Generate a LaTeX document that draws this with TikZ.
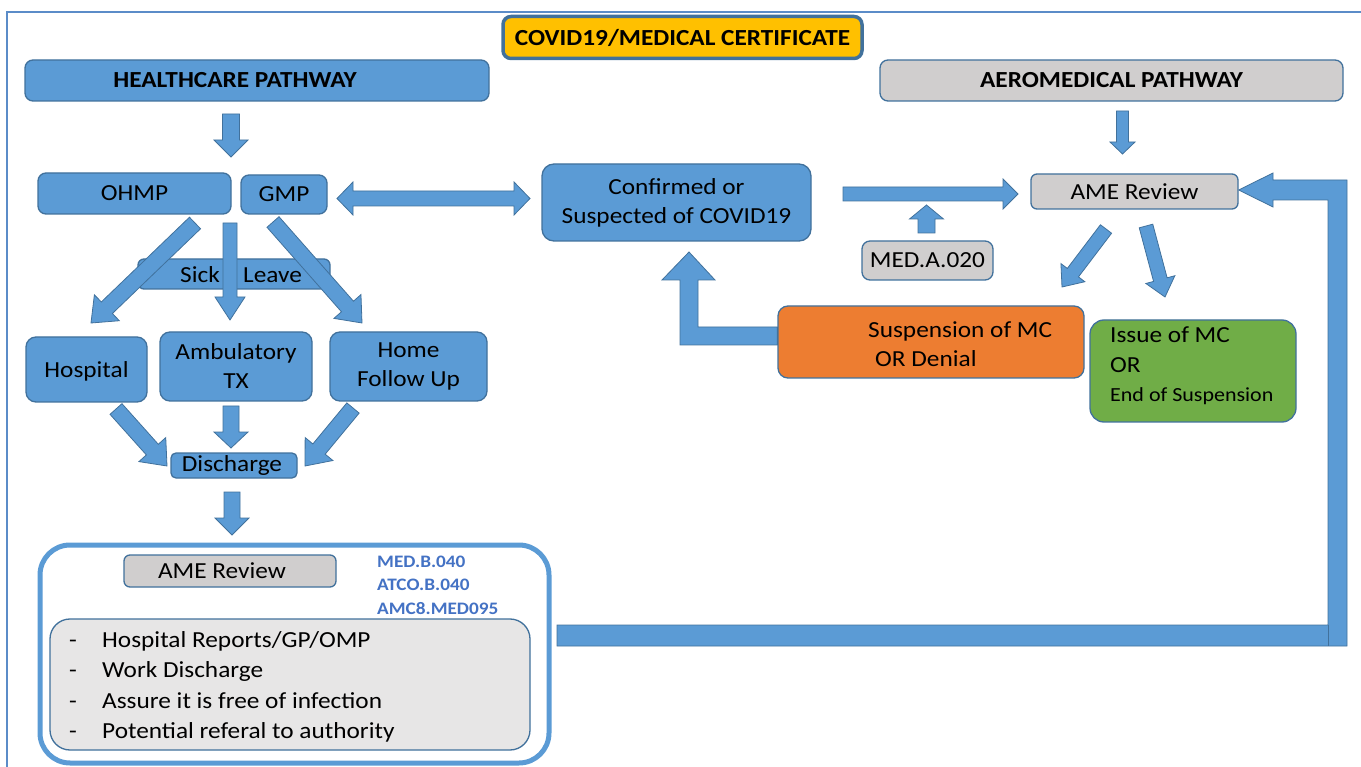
\documentclass[tikz,border=0pt]{standalone}
\usepackage{fontspec}
\setmainfont{Carlito}[FakeStretch=1.10]
\usetikzlibrary{calc}
\definecolor{blu}{HTML}{5B9BD5}
\definecolor{bdr}{HTML}{41719C}
\definecolor{gry}{HTML}{D0CECE}
\definecolor{lgry}{HTML}{E7E6E6}
\definecolor{org}{HTML}{ED7D31}
\definecolor{grn}{HTML}{70AD47}
\definecolor{gold}{HTML}{FFC000}
\definecolor{codeblue}{HTML}{4472C4}
\definecolor{framec}{HTML}{5B8CC8}
\newcommand\regf{\fontsize{23}{29}\selectfont}
\newcommand\headf{\fontsize{23}{27}\selectfont\bfseries}
\newcommand\codef{\fontsize{17.5}{20}\selectfont\bfseries}
\newcommand\smlf{\fontsize{20}{24}\selectfont}
% #1 name, #2 start, #3 tip, #4 half shaft, #5 half head, #6 head length
\newcommand\blockarrow[6]{%
  \coordinate (#1-h) at ($(#3)!#6!(#2)$);
  \draw[barrow] ($(#2)!#4!90:(#3)$) -- ($(#1-h)!#4!-90:(#2)$) -- ($(#1-h)!#5!-90:(#2)$) -- (#3)
     -- ($(#1-h)!#5!90:(#2)$) -- ($(#1-h)!#4!90:(#2)$) -- ($(#2)!#4!-90:(#3)$) -- cycle;}
% #1 name, #2 tip A, #3 tip B, #4 half shaft, #5 half head, #6 head length
\newcommand\dblarrow[6]{%
  \coordinate (#1-a) at ($(#2)!#6!(#3)$);
  \coordinate (#1-b) at ($(#3)!#6!(#2)$);
  \draw[barrow] (#2) -- ($(#1-a)!#5!90:(#3)$) -- ($(#1-a)!#4!90:(#3)$) -- ($(#1-b)!#4!-90:(#2)$)
     -- ($(#1-b)!#5!-90:(#2)$) -- (#3) -- ($(#1-b)!#5!90:(#2)$) -- ($(#1-b)!#4!90:(#2)$)
     -- ($(#1-a)!#4!-90:(#3)$) -- ($(#1-a)!#5!-90:(#3)$) -- cycle;}
\tikzset{
  pbox/.style={draw=bdr, line width=1.3pt, rounded corners=8pt, fill=blu, inner sep=0pt, align=center, font=\regf},
  gbox/.style={pbox, fill=gry},
  barrow/.style={fill=blu, draw=bdr, line width=0.8pt, line join=miter},
  txt/.style={inner sep=0pt, font=\regf, anchor=base west},
}
\begin{document}
\begin{tikzpicture}[x=1pt,y=-1pt]
\useasboundingbox (0,0) rectangle (1361,767);
\draw[framec, line width=1.5pt] (7,767) -- (7,12) -- (1361,12);

% headers
\node[pbox, fill=gold, line width=3.5pt, minimum width=359pt, minimum height=42pt, font=\headf] (title) at (682.5,37.5) {COVID19/MEDICAL CERTIFICATE};
\node[pbox, minimum width=464pt, minimum height=41pt, font=\headf] (hc) at (257,80.5) {HEALTHCARE PATHWAY\hspace*{44pt}};
\node[gbox, minimum width=463pt, minimum height=41pt, font=\headf] (am) at (1111.5,80.5) {AEROMEDICAL PATHWAY};

% left column
\node[pbox, minimum width=193pt, minimum height=41pt] (ohmp) at (134.5,193.5) {OHMP};
\node[pbox, minimum width=86pt, minimum height=39pt] (gmp) at (284,194.5) {GMP};
\node[pbox, minimum width=192pt, minimum height=30pt, rounded corners=6pt] (sick) at (234,274) {};
\node[txt] (sickt) at (180,283) {Sick};
\node[txt] (leavet) at (243,283) {Leave};
\node[pbox, minimum width=121pt, minimum height=65pt, rounded corners=10pt, text depth=0pt] (hosp) at (86.5,369.5) {Hospital};
\node[pbox, minimum width=152pt, minimum height=69pt, rounded corners=10pt] (amb) at (236,366.5) {Ambulatory\\TX};
\node[pbox, minimum width=157pt, minimum height=69pt, rounded corners=10pt] (home) at (408.5,366.5) {Home\\Follow Up};
\node[pbox, minimum width=126pt, minimum height=25pt, rounded corners=5pt] (dis) at (234,465.5) {Discharge\hspace*{4pt}};

% bottom block
\draw[blu, line width=5pt, fill=white, rounded corners=30pt] (40,545) rectangle (549,763);
\node[gbox, minimum width=212pt, minimum height=32pt, rounded corners=6pt] (ame2) at (230,571) {AME Review\hspace*{16pt}};
\node[txt, font=\codef, text=codeblue] (c1) at (377,567) {MED.B.040};
\node[txt, font=\codef, text=codeblue] (c2) at (377,590) {ATCO.B.040};
\node[txt, font=\codef, text=codeblue] (c3) at (377,614) {AMC8.MED095};
\node[pbox, fill=lgry, minimum width=480pt, minimum height=131pt, rounded corners=20pt] (list) at (290,684.5) {};
\node[txt] (d1) at (69,647) {-};
\node[txt] (d2) at (69,677) {-};
\node[txt] (d3) at (69,708) {-};
\node[txt] (d4) at (69,738) {-};
\node[txt] (l1) at (102,647) {Hospital Reports/GP/OMP};
\node[txt] (l2) at (102,677) {Work Discharge};
\node[txt] (l3) at (102,708) {Assure it is free of infection};
\node[txt] (l4) at (102,738) {Potential referal to authority};

% middle / right
\node[pbox, minimum width=269pt, minimum height=77pt, rounded corners=12pt] (conf) at (676.5,202.5) {Confirmed or\\Suspected of COVID19};
\node[gbox, minimum width=131pt, minimum height=39pt, rounded corners=8pt] (meda) at (927.5,260.5) {MED.A.020};
\node[gbox, minimum width=207pt, minimum height=35pt, rounded corners=6pt] (ame1) at (1134.5,191.5) {AME Review};
\node[pbox, fill=org, minimum width=306pt, minimum height=72pt, rounded corners=10pt] (susp) at (931,342) {};
\node[txt] (s1) at (868,338) {Suspension of MC};
\node[txt] (s2) at (875,367) {OR Denial};
\node[pbox, fill=grn, minimum width=206pt, minimum height=102pt, rounded corners=14pt] (issue) at (1193,371) {};
\node[txt] (i1) at (1110,343) {Issue of MC};
\node[txt] (i2) at (1110,373) {OR};
\node[txt, font=\smlf] (i3) at (1110,402) {End of Suspension};

% arrows
\coordinate (a1s) at (231,114); \coordinate (a1t) at (231,157);
\blockarrow{a1}{a1s}{a1t}{8.5pt}{17pt}{17pt}
\coordinate (a2s) at (1122.5,111); \coordinate (a2t) at (1122.5,154);
\blockarrow{a2}{a2s}{a2t}{6pt}{12.5pt}{12pt}
\coordinate (dA) at (337,198.5); \coordinate (dB) at (530,198.5);
\dblarrow{dbl}{dA}{dB}{7.5pt}{16.5pt}{16pt}
\coordinate (a3s) at (195,223); \coordinate (a3t) at (91,323);
\blockarrow{a3}{a3s}{a3t}{8pt}{18pt}{22pt}
\coordinate (a4s) at (230,223); \coordinate (a4t) at (230,320);
\blockarrow{a4}{a4s}{a4t}{7pt}{15pt}{23pt}
\coordinate (a5s) at (273,222); \coordinate (a5t) at (362,323);
\blockarrow{a5}{a5s}{a5t}{8pt}{18pt}{22pt}
\coordinate (a6s) at (116,409); \coordinate (a6t) at (167,466);
\blockarrow{a6}{a6s}{a6t}{8pt}{18pt}{22pt}
\coordinate (a7s) at (231,406); \coordinate (a7t) at (231,448);
\blockarrow{a7}{a7s}{a7t}{8pt}{17pt}{16pt}
\coordinate (a8s) at (353,408); \coordinate (a8t) at (305,466);
\blockarrow{a8}{a8s}{a8t}{8pt}{18pt}{22pt}
\coordinate (a9s) at (232,492); \coordinate (a9t) at (232,535);
\blockarrow{a9}{a9s}{a9t}{8pt}{17pt}{17pt}
\coordinate (a10s) at (843,194); \coordinate (a10t) at (1018,194);
\blockarrow{a10}{a10s}{a10t}{7pt}{15pt}{15pt}
\coordinate (a11s) at (926.5,233); \coordinate (a11t) at (926.5,205);
\blockarrow{a11}{a11s}{a11t}{8.5pt}{17pt}{14pt}
\coordinate (a12s) at (1106,229); \coordinate (a12t) at (1062,287);
\blockarrow{a12}{a12s}{a12t}{7pt}{15pt}{18pt}
\coordinate (a13s) at (1146,226); \coordinate (a13t) at (1165,297);
\blockarrow{a13}{a13s}{a13t}{7pt}{15pt}{18pt}

% bent arrow suspension -> confirmed
\draw[barrow] (susp.west |- 0,327) -- (698,327) -- (698,280) -- (715,280) -- (689,252)
   -- (662,280) -- (680,280) -- (680,345) -- (susp.west |- 0,345) -- cycle;
% return arrow bottom -> AME review
\draw[barrow] (557,625) -- (1328,625) -- (1328,200) -- (1273,200) -- (1273,207) -- (ame1.east |- 0,190)
   -- (1273,173) -- (1273,180) -- (1347,180) -- (1347,646) -- (557,646) -- cycle;
\draw[bdr, line width=0.8pt] (1328,625) -- (1328,646);
\end{tikzpicture}
\end{document}
